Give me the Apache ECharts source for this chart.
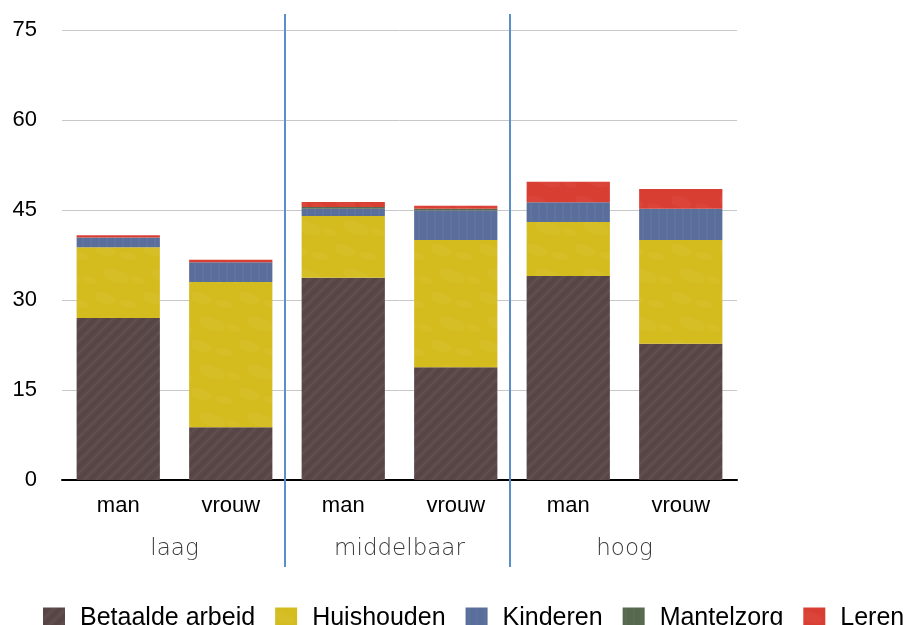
<!DOCTYPE html>
<html>
<head>
<meta charset="utf-8">
<script src="https://cdn.jsdelivr.net/npm/echarts@6/dist/echarts.min.js"></script>
<style>
  html, body { margin: 0; padding: 0; background: #fff; }
  #chart { width: 909px; height: 625px; }
</style>
</head>
<body>
<div id="chart"></div>
<script>
// tijdsbesteding per week naar opleiding en geslacht
const categories = ['man', 'vrouw', 'man', 'vrouw', 'man', 'vrouw'];
const groups = ['laag', 'middelbaar', 'hoog'];
const yTicks = [0, 15, 30, 45, 60, 75];

const betaaldeArbeid = [27, 8.8, 33.7, 18.8, 34, 22.7];
const huishouden = [11.8, 24.2, 10.3, 21.2, 9, 17.3];
const kinderen = [1.6, 3.3, 1.2, 4.9, 3.3, 5.2];
const mantelzorg = [0, 0, 0.3, 0.3, 0, 0];
const leren = [0.4, 0.4, 0.85, 0.5, 3.4, 3.3];

const colors = {
  'Betaalde arbeid': '#5a4849',
  'Huishouden': '#d4bc1f',
  'Kinderen': '#5a6e9b',
  'Mantelzorg': '#56694e',
  'Leren': '#d93e33',
};

// licht papierachtig textuur, zoals in het origineel
function texture(base, kind) {
  const c = document.createElement('canvas');
  c.width = 48; c.height = 48;
  const g = c.getContext('2d');
  g.fillStyle = base;
  g.fillRect(0, 0, 48, 48);
  g.lineWidth = 2;
  if (kind === 'diag') {
    g.strokeStyle = 'rgba(255,255,255,0.045)';
    for (let k = -60; k < 60; k += 12) {
      g.beginPath(); g.moveTo(k, 48); g.lineTo(k + 48, 0); g.stroke();
    }
    g.strokeStyle = 'rgba(0,0,0,0.045)';
    for (let k = -54; k < 60; k += 12) {
      g.beginPath(); g.moveTo(k, 48); g.lineTo(k + 48, 0); g.stroke();
    }
  } else if (kind === 'vert') {
    g.strokeStyle = 'rgba(255,255,255,0.035)';
    for (let k = 3; k < 48; k += 8) {
      g.beginPath(); g.moveTo(k, 0); g.lineTo(k, 48); g.stroke();
    }
  } else if (kind === 'mottle') {
    g.fillStyle = 'rgba(255,255,255,0.03)';
    [[8, 10, 8], [32, 16, 6], [20, 36, 9], [42, 40, 5]].forEach(([x, y, r]) => {
      g.beginPath(); g.ellipse(x, y, r * 1.5, r * 0.7, 0.3, 0, Math.PI * 2); g.fill();
    });
  }
  return { image: c, repeat: 'repeat' };
}

const fills = {
  'Betaalde arbeid': texture(colors['Betaalde arbeid'], 'diag'),
  'Huishouden': texture(colors['Huishouden'], 'mottle'),
  'Kinderen': texture(colors['Kinderen'], 'vert'),
  'Mantelzorg': texture(colors['Mantelzorg'], 'vert'),
  'Leren': texture(colors['Leren'], 'mottle'),
};

const chart = echarts.init(document.getElementById('chart'));

const mkSeries = (name, data) => ({
  name,
  type: 'bar',
  stack: 'tijd',
  data,
  barWidth: '74%',
  itemStyle: { color: fills[name] },
  emphasis: { disabled: true },
});

chart.setOption({
  backgroundColor: '#fff',
  animation: false,
  textStyle: { fontFamily: 'Liberation Sans, Arial, sans-serif' },
  grid: { left: 62, right: 172, top: 30, bottom: 145 },
  legend: {
    left: 38,
    top: 601,
    width: 1000,
    itemWidth: 22,
    itemHeight: 22,
    itemGap: 20,
    icon: 'rect',
    textStyle: { fontSize: 25, color: '#000', padding: [0, 0, 0, 10] },
  },
  xAxis: [
    {
      type: 'category',
      data: categories,
      axisLine: { lineStyle: { color: '#000', width: 2 } },
      axisTick: { show: false },
      axisLabel: { color: '#000', fontSize: 22, margin: 15 },
    },
    {
      type: 'category',
      data: groups,
      position: 'bottom',
      offset: 50,
      axisLine: { show: false },
      axisTick: { show: false },
      axisLabel: { color: '#3a3a3a', fontSize: 23, fontFamily: 'DejaVu Sans', fontWeight: 200 },
    },
  ],
  yAxis: {
    type: 'value',
    min: yTicks[0],
    max: yTicks[yTicks.length - 1],
    interval: yTicks[1] - yTicks[0],
    axisLine: { show: false },
    axisTick: { show: false },
    axisLabel: { color: '#000', fontSize: 22, margin: 25 },
    splitLine: { lineStyle: { color: '#c8c8c8', width: 1 } },
  },
  series: [
    mkSeries('Betaalde arbeid', betaaldeArbeid),
    mkSeries('Huishouden', huishouden),
    mkSeries('Kinderen', kinderen),
    mkSeries('Mantelzorg', mantelzorg),
    mkSeries('Leren', leren),
  ],
});

// scheidingslijnen tussen de opleidingsgroepen
const seps = [2, 4].map(i => {
  const a = chart.convertToPixel({ xAxisIndex: 0 }, i - 1);
  const b = chart.convertToPixel({ xAxisIndex: 0 }, i);
  const x = Math.round((a + b) / 2) - 2;
  return {
    type: 'line',
    shape: { x1: x, y1: 14, x2: x, y2: 567 },
    style: { stroke: '#5b8fcc', lineWidth: 2 },
    z: 10,
  };
});
chart.setOption({ graphic: seps });
</script>
</body>
</html>
